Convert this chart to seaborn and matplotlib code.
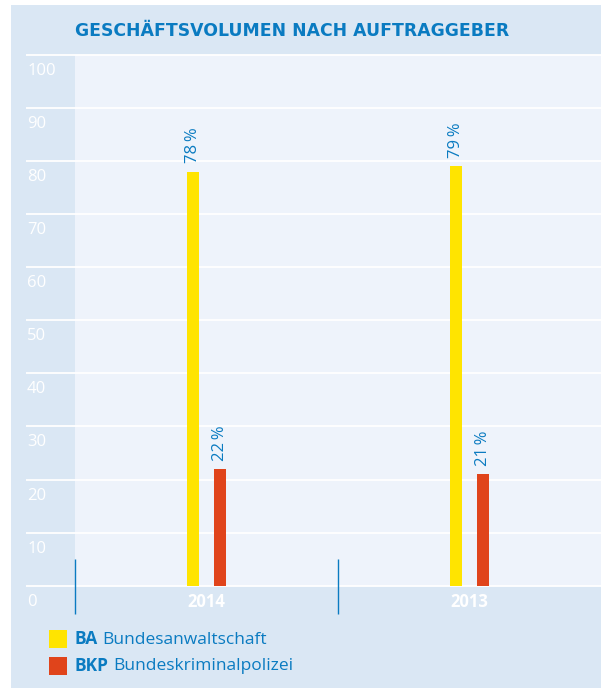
import matplotlib
matplotlib.use("Agg")
import matplotlib.pyplot as plt
import matplotlib.transforms as mtransforms
from matplotlib.patches import Rectangle
import seaborn as sns
import pandas as pd

# ---- data ----
years = ["2014", "2013"]
clients = ["BA", "BKP"]
client_names = ["Bundesanwaltschaft", "Bundeskriminalpolizei"]
ba_values = [78, 79]
bkp_values = [22, 21]
y_ticks = [0, 10, 20, 30, 40, 50, 60, 70, 80, 90, 100]
title = "GESCHÄFTSVOLUMEN NACH AUFTRAGGEBER"

# ---- style ----
FAM = ["Open Sans", "DejaVu Sans"]
plt.rcParams["font.family"] = FAM
BLUE = "#0a7bc1"
PANEL = "#dae7f4"
PLOT_BG = "#eef3fb"
YELLOW = "#ffe400"
RED = "#e0441b"

W, H = 601, 689
fig = plt.figure(figsize=(W / 100, H / 100), dpi=100, facecolor="white")

# outer panel
fig.patches.append(Rectangle((11 / W, 1 / H), 590 / W, 683 / H,
                             transform=fig.transFigure, facecolor=PANEL,
                             edgecolor="none", zorder=-5))

ax_left, ax_top, ax_bottom = 75, 55, 585.7
ax = fig.add_axes([ax_left / W, 1 - ax_bottom / H, (W - ax_left) / W,
                   (ax_bottom - ax_top) / H])
ax.set_facecolor(PLOT_BG)

df = pd.DataFrame({
    "year": years * 2,
    "client": [clients[0]] * 2 + [clients[1]] * 2,
    "value": ba_values + bkp_values,
})

sns.barplot(data=df, x="year", y="value", hue="client", order=years,
            hue_order=clients, palette=[YELLOW, RED], saturation=1,
            width=0.205, gap=0.52, legend=False, ax=ax, zorder=3)

ax.set_xlim(-0.5, 1.5)
ax.set_ylim(0, 100)
for s in ax.spines.values():
    s.set_visible(False)
ax.set_xlabel("")
ax.set_ylabel("")

# gridlines extending into left band
ax.hlines(y_ticks, -49 / 526, 1, transform=ax.get_yaxis_transform(),
          colors="white", lw=1.3, clip_on=False, zorder=2)

# y tick labels
ax.set_yticks(y_ticks)
ax.set_yticklabels([str(t) for t in y_ticks])
ax.tick_params(axis="y", length=0, pad=34.5, labelcolor="white", labelsize=12)
offset = mtransforms.ScaledTranslation(0, -16 / 100, fig.dpi_scale_trans)
for lab in ax.get_yticklabels():
    lab.set_horizontalalignment("left")
    lab.set_verticalalignment("center")
    lab.set_transform(lab.get_transform() + offset)

# x tick labels
ax.set_xticks([0, 1])
ax.set_xticklabels(years)
ax.tick_params(axis="x", length=0, pad=5.5, labelcolor="white", labelsize=12)
for lab in ax.get_xticklabels():
    lab.set_fontweight("bold")

# category separators
ax.vlines([-0.5, 0.5], -5.3, 5.0, colors=BLUE, lw=1, clip_on=False, zorder=4)

# bar labels
for cont, vals in zip(ax.containers, [ba_values, bkp_values]):
    ax.bar_label(cont, labels=[f"{v}\u2009%" for v in vals], rotation=90,
                 padding=6, color=BLUE, fontsize=12, family=FAM)

# title
fig.text(75 / W, 1 - 31 / H, title, ha="left", va="center", color=BLUE,
         fontsize=12.4, fontweight="bold", family=["DejaVu Sans"])

# legend
fig.canvas.draw()
renderer = fig.canvas.get_renderer()
for i, (abbr, name, col) in enumerate(zip(clients, client_names, [YELLOW, RED])):
    y0 = 630 + i * 26.5
    fig.patches.append(Rectangle((49 / W, 1 - (y0 + 18) / H), 18 / W, 18 / H,
                                 transform=fig.transFigure, facecolor=col,
                                 edgecolor="none", zorder=1))
    t = fig.text(75 / W, 1 - (y0 + 9.5) / H, abbr, ha="left", va="center",
                 color=BLUE, fontsize=12.5, fontweight="bold")
    bb = t.get_window_extent(renderer)
    fig.text((bb.x1 + 4) / W, 1 - (y0 + 9.5) / H, name, ha="left",
             va="center", color=BLUE, fontsize=12.5)

fig.savefig("out.png", dpi=100, facecolor="white")
